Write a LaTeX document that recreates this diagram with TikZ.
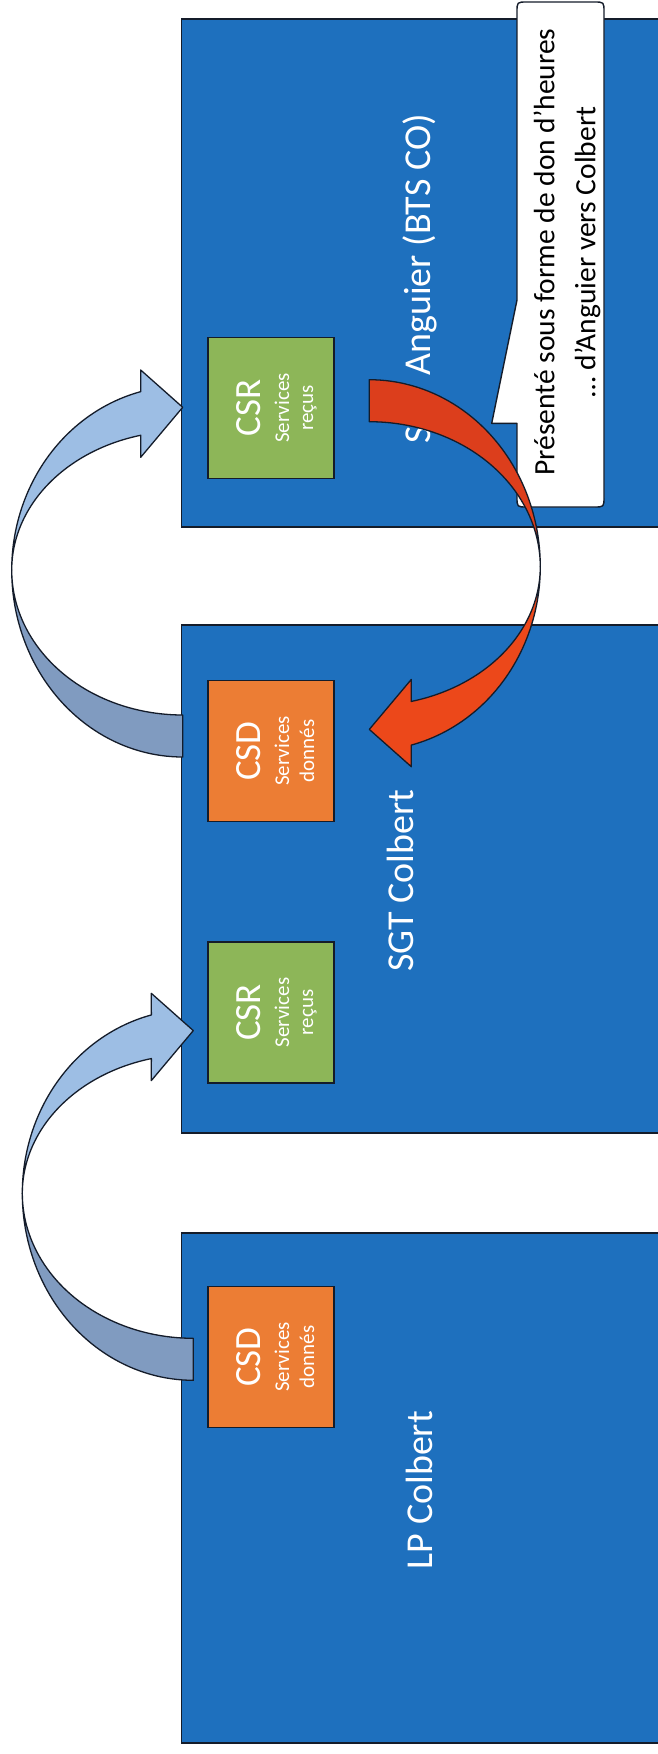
\documentclass[tikz,border=0pt]{standalone}
\usepackage{fontspec}
\setmainfont{Carlito}
\definecolor{bigblue}{RGB}{30,112,190}
\definecolor{greenbox}{RGB}{141,182,88}
\definecolor{orangebox}{RGB}{236,125,52}
\definecolor{arrowfront}{RGB}{157,190,228}
\definecolor{arrowback}{RGB}{128,155,192}
\definecolor{redback}{RGB}{220,62,28}
\definecolor{redfront}{RGB}{236,72,26}
\definecolor{edge}{RGB}{20,28,42}
\tikzset{
  bigbox/.style={draw=edge, line width=1.6, fill=bigblue, inner sep=0, minimum width=488.5, minimum height=508},
  smallbox/.style={draw=edge, line width=1.4, inner sep=0, minimum width=126, minimum height=141},
  csdbox/.style={smallbox, fill=orangebox},
  csrbox/.style={smallbox, fill=greenbox},
  mainlbl/.style={rotate=90, text=white, inner sep=0, anchor=base, font=\fontsize{38}{40}\selectfont},
  codelbl/.style={rotate=90, text=white, inner sep=0, anchor=base, font=\fontsize{37}{40}\selectfont},
  sublbl/.style={rotate=90, text=white, inner sep=0, anchor=base, font=\fontsize{21}{23}\selectfont},
  shapeedge/.style={draw=edge, line width=1.3, line join=round},
  pics/curvedarrow/.style 2 args={code={
    \filldraw[shapeedge, fill=#1]
      plot[domain=180:90, samples=50] ({171*cos(\x)}, {187*sin(\x)})
      -- plot[domain=90:180, samples=50] ({171*cos(\x)}, {145*sin(\x)}) -- cycle;
    \filldraw[shapeedge, fill=#2]
      plot[domain=180:104.2, samples=50] ({171*cos(\x)}, {-184*sin(\x)})
      -- (-42,-200) -- (0,-162.7) -- (-42,-112.7)
      -- plot[domain=104.2:180, samples=50] ({171*cos(\x)}, {-139*sin(\x)}) -- cycle;
  }}
}
\begin{document}
\begin{tikzpicture}[x=1pt,y=-1pt]
\useasboundingbox (0,0) rectangle (658,1754);
\clip (0,0) rectangle (658,1754);
\fill[white] (0,0) rectangle (658,1754);

% big boxes
\node[bigbox] (anguier) at (425.75,272.7) {};
\node[bigbox] (sgt) at (425.75,879) {};
\node[bigbox, minimum height=510] (lp) at (425.75,1488) {};

% main labels
\node[mainlbl] (lblang) at (430,279) {SGT Anguier (BTS CO)};
\node[mainlbl] (lblsgt) at (413,880.5) {SGT Colbert};
\node[mainlbl] (lbllp) at (432,1490) {LP Colbert};

% small boxes
\node[csrbox] (csr1) at (271,408) {};
\node[csdbox] (csd1) at (271,751) {};
\node[csrbox] (csr2) at (271,1012.5) {};
\node[csdbox] (csd2) at (271,1357) {};

\node[codelbl] (csr1a) at (260,408) {CSR};
\node[sublbl] (csr1b) at (289,408) {Services};
\node[sublbl] (csr1c) at (313,408) {reçus};

\node[codelbl] (csd1a) at (260,751) {CSD};
\node[sublbl] (csd1b) at (289,751) {Services};
\node[sublbl] (csd1c) at (314,751) {donnés};

\node[codelbl] (csr2a) at (260,1012.5) {CSR};
\node[sublbl] (csr2b) at (289,1012.5) {Services};
\node[sublbl] (csr2c) at (313,1012.5) {reçus};

\node[codelbl] (csd2a) at (260,1357) {CSD};
\node[sublbl] (csd2b) at (289,1357) {Services};
\node[sublbl] (csd2c) at (314,1357) {donnés};

% blue curved arrows
\pic (arrA) at (182.7,570) {curvedarrow={arrowback}{arrowfront}};
\pic (arrB) at (193.3,1193.3) {curvedarrow={arrowback}{arrowfront}};

% callout
\filldraw[fill=white, draw=edge, line width=1.4, line join=round]
  (517,300) -- (491.7,423.3) -- (517,423.3) -- (517,497)
  .. controls (517,507) .. (527,507) -- (594,507)
  .. controls (604,507) .. (604,497) -- (604,12)
  .. controls (604,2) .. (594,2) -- (527,2)
  .. controls (517,2) .. (517,12) -- cycle;
\node[rotate=90, align=center, inner sep=0, text=black, font=\fontsize{29.5}{41}\selectfont] (note) at (567,252)
  {Présenté sous forme de don d’heures\\… d’Anguier vers Colbert};

% red curved arrow
\pic[rotate=180] (arrR) at (369.3,566.7) {curvedarrow={redback}{redfront}};
\end{tikzpicture}
\end{document}
